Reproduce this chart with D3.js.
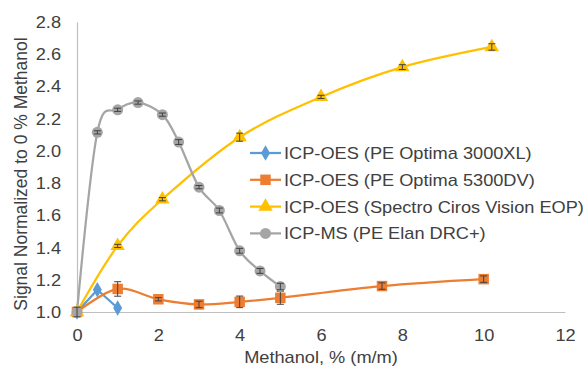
<!DOCTYPE html>
<html>
<head>
<meta charset="utf-8">
<script src="https://cdn.jsdelivr.net/npm/d3@7"></script>
<style>
  body { margin: 0; background: #fff; }
  text { font-family: "Liberation Sans", Arial, sans-serif; fill: #404040; }
</style>
</head>
<body>
<div id="chart"></div>
<script>
// values
const xTicks = [0, 2, 4, 6, 8, 10, 12];
const yTicks = [1.0, 1.2, 1.4, 1.6, 1.8, 2.0, 2.2, 2.4, 2.6, 2.8];

const optima3000X = [0, 0.5, 1];
const optima3000Y = [1.0, 1.138, 1.025];
const optima3000Err = [0, 0, 0];

const optima5300X = [0, 1, 2, 3, 4, 5, 7.5, 10];
const optima5300Y = [1.0, 1.143, 1.079, 1.047, 1.063, 1.088, 1.161, 1.204];
const optima5300Err = [0.01, 0.045, 0.01, 0.02, 0.036, 0.04, 0.02, 0.02];

const cirosX = [0, 1, 2.1, 4, 6, 8, 10.2];
const cirosY = [1.0, 1.41, 1.70, 2.085, 2.335, 2.52, 2.645];
const cirosErr = [0.01, 0.01, 0.01, 0.025, 0.01, 0.015, 0.02];

const elanX = [0, 0.5, 1, 1.5, 2.1, 2.5, 3, 3.5, 4, 4.5, 5];
const elanY = [1.0, 2.115, 2.255, 2.30, 2.225, 2.055, 1.775, 1.63, 1.38, 1.255, 1.158];
const elanErr = [0.03, 0.01, 0.01, 0.01, 0.01, 0.015, 0.01, 0.015, 0.015, 0.015, 0.02];

const seriesNames = [
  'ICP-OES (PE Optima 3000XL)',
  'ICP-OES (PE Optima 5300DV)',
  'ICP-OES (Spectro Ciros Vision EOP)',
  'ICP-MS (PE Elan DRC+)'
];
const seriesColors = ['#5B9BD5', '#ED7D31', '#FFC000', '#A5A5A5'];

const zip = (xs, ys, es) => xs.map((x, i) => ({ x: x, y: ys[i], e: es[i] }));

const series = [
  { name: seriesNames[0], color: seriesColors[0], symbol: d3.symbolDiamond, size: 70, smooth: false, pts: zip(optima3000X, optima3000Y, optima3000Err) },
  { name: seriesNames[1], color: seriesColors[1], symbol: d3.symbolSquare, size: 110, smooth: true, pts: zip(optima5300X, optima5300Y, optima5300Err) },
  { name: seriesNames[2], color: seriesColors[2], symbol: d3.symbolTriangle, size: 90, smooth: true, pts: zip(cirosX, cirosY, cirosErr) },
  { name: seriesNames[3], color: seriesColors[3], symbol: d3.symbolCircle, size: 95, smooth: true, pts: zip(elanX, elanY, elanErr) }
];

const outerWidth = 583;
const outerHeight = 368;
const margin = { top: 22, right: 18, bottom: 56, left: 77 };
const width = outerWidth - margin.left - margin.right;
const height = outerHeight - margin.top - margin.bottom;
const fontSize = '17px';
const stretch = 1.07; // the picture's text is a bit wider than plain Arial

const svg = d3.select('#chart')
  .append('svg')
  .attr('width', outerWidth)
  .attr('height', outerHeight);

const g = svg.append('g')
  .attr('transform', 'translate(' + margin.left + ',' + margin.top + ')');

const xScale = d3.scaleLinear().domain([0, 12]).range([0, width]);
const yScale = d3.scaleLinear().domain([1.0, 2.8]).range([height, 0]);

// axes
const gX = g.append('g')
  .attr('transform', 'translate(0,' + height + ')')
  .call(d3.axisBottom(xScale).tickValues(xTicks).tickFormat(d3.format('d')).tickSize(0).tickPadding(17));

const gY = g.append('g')
  .call(d3.axisLeft(yScale).tickValues(yTicks).tickFormat(d3.format('.1f')).tickSize(0).tickPadding(16));

[gX, gY].forEach(a => {
  a.select('.domain').attr('stroke', '#BFBFBF').attr('stroke-width', 1.2);
  a.selectAll('text').style('font-size', fontSize).attr('fill', '#404040')
    .style('font-family', '"Liberation Sans", Arial, sans-serif');
});

// axis titles
svg.append('text')
  .attr('x', 321)
  .attr('y', 363)
  .attr('text-anchor', 'middle')
  .style('font-size', fontSize)
  .text('Methanol, % (m/m)');

svg.append('text')
  .attr('class', 'ytitle')
  .attr('transform', 'translate(27,174) rotate(-90)')
  .attr('text-anchor', 'middle')
  .style('font-size', '17.5px')
  .text('Signal Normalized to 0 % Methanol');

// lines
series.forEach(s => {
  const line = d3.line()
    .x(d => xScale(d.x))
    .y(d => yScale(d.y))
    .curve(s.smooth ? d3.curveCardinal.tension(0) : d3.curveLinear);

  g.append('path')
    .datum(s.pts)
    .attr('fill', 'none')
    .attr('stroke', s.color)
    .attr('stroke-width', 2.25)
    .attr('d', line);
});

// markers then error bars
series.forEach(s => {
  g.selectAll(null)
    .data(s.pts)
    .enter()
    .append('path')
    .attr('transform', d => 'translate(' + xScale(d.x) + ',' + yScale(d.y) + ')')
    .attr('d', d3.symbol().type(s.symbol).size(s.size))
    .attr('fill', s.color);

  const bars = g.selectAll(null)
    .data(s.pts.filter(d => d.e > 0))
    .enter()
    .append('g')
    .attr('stroke', '#404040')
    .attr('stroke-width', 1);

  bars.append('line')
    .attr('x1', d => xScale(d.x)).attr('x2', d => xScale(d.x))
    .attr('y1', d => yScale(d.y + d.e)).attr('y2', d => yScale(d.y - d.e));
  bars.append('line')
    .attr('x1', d => xScale(d.x) - 3.5).attr('x2', d => xScale(d.x) + 3.5)
    .attr('y1', d => yScale(d.y + d.e)).attr('y2', d => yScale(d.y + d.e));
  bars.append('line')
    .attr('x1', d => xScale(d.x) - 3.5).attr('x2', d => xScale(d.x) + 3.5)
    .attr('y1', d => yScale(d.y - d.e)).attr('y2', d => yScale(d.y - d.e));
});

// legend
const legend = svg.selectAll('.legend')
  .data(series)
  .enter()
  .append('g')
  .classed('legend', true)
  .attr('transform', (d, i) => 'translate(250,' + (153 + i * 26.8) + ')');

legend.append('line')
  .attr('x1', 0).attr('x2', 31)
  .attr('stroke', d => d.color)
  .attr('stroke-width', 2.25);

legend.append('path')
  .attr('transform', 'translate(15.5,0)')
  .attr('d', d => d3.symbol().type(d.symbol).size(d.size)())
  .attr('fill', d => d.color);

legend.append('text')
  .attr('x', 34)
  .attr('dy', '0.35em')
  .style('font-size', fontSize)
  .text(d => d.name);

// widen horizontal text a little
svg.selectAll('text').filter(function () { return !this.classList.contains('ytitle'); })
  .each(function () {
    const w = this.getComputedTextLength();
    d3.select(this).attr('textLength', w * stretch).attr('lengthAdjust', 'spacingAndGlyphs');
  });
</script>
</body>
</html>
